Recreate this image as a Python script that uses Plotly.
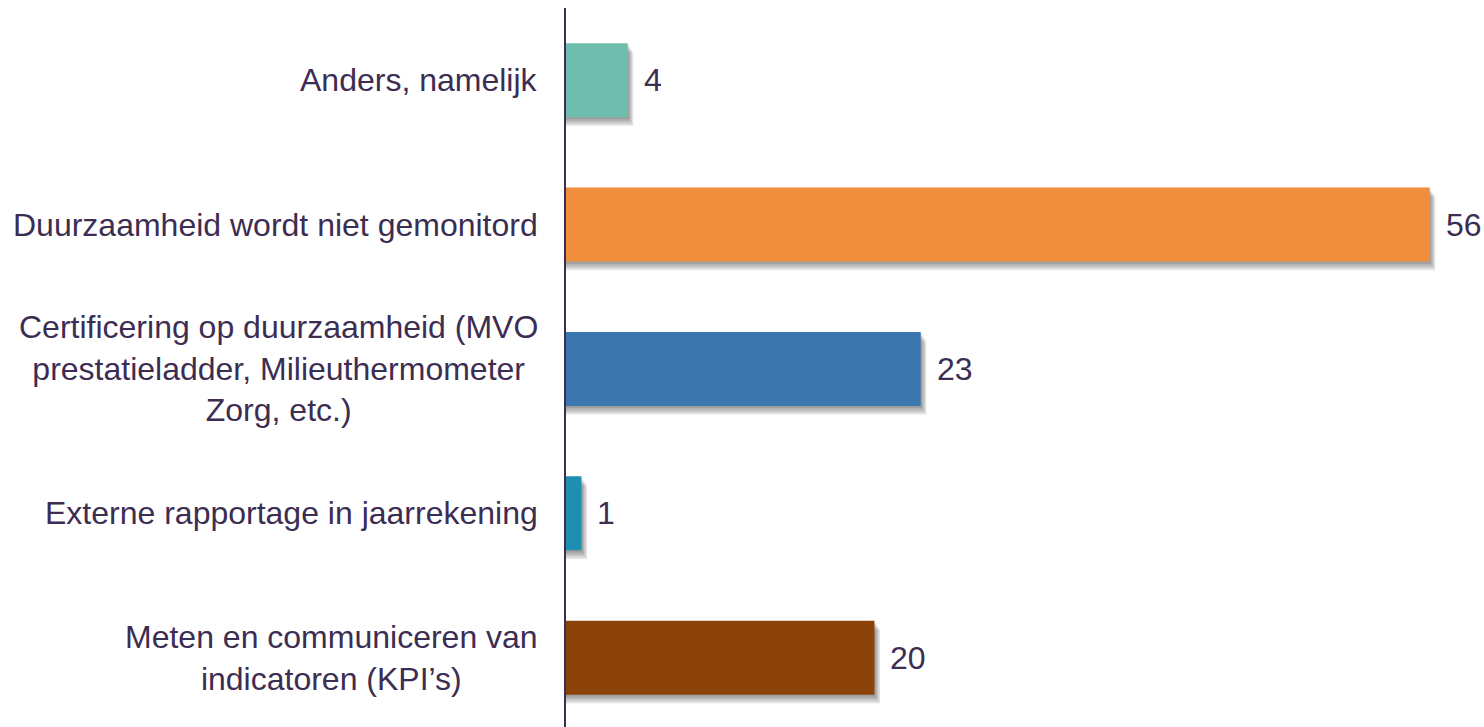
#!/usr/bin/env python3
"""
Monitoring duurzaamheid - horizontal bar chart
"""

import plotly.graph_objects as go

# Categories bottom -> top (plotly draws the first category at the bottom)
categories = [
    "Meten en communiceren van<br>indicatoren (KPI’s)",
    "Externe rapportage in jaarrekening",
    "Certificering op duurzaamheid (MVO<br>prestatieladder, Milieuthermometer<br>Zorg, etc.)",
    "Duurzaamheid wordt niet gemonitord",
    "Anders, namelijk",
]
values = [20, 1, 23, 56, 4]
bar_colors = ["#8B4309", "#1E8FAF", "#3C76AE", "#F08E3C", "#6FBEAD"]

TEXT_COLOR = "#3C2D52"
FONT = "Liberation Sans, Arial, sans-serif"
BAR_WIDTH = 0.512


def build_figure():
    """Build the bar chart with a soft drop shadow under each bar"""
    fig = go.Figure()

    # soft shadow: a few translucent layers, each pushed a bit lower/right
    for k in range(1, 5):
        fig.add_trace(go.Bar(
            y=categories,
            x=[v + 0.09 * k for v in values],
            orientation="h",
            width=BAR_WIDTH,
            offset=-BAR_WIDTH / 2 - 0.015 * k,
            marker=dict(color="rgba(0,0,0,0.11)", line=dict(width=0)),
            hoverinfo="skip",
            showlegend=False,
        ))

    fig.add_trace(go.Bar(
        y=categories,
        x=values,
        orientation="h",
        width=BAR_WIDTH,
        marker=dict(color=bar_colors, line=dict(width=0)),
        showlegend=False,
    ))

    # value labels right of the bars
    for cat, val in zip(categories, values):
        fig.add_annotation(
            x=val, y=cat, xref="x", yref="y",
            text=str(val), showarrow=False,
            xanchor="left", xshift=14,
            font=dict(size=32, color=TEXT_COLOR, family=FONT),
        )

    # category labels, centred per line like the original
    for cat in categories:
        fig.add_annotation(
            x=0, y=cat, xref="paper", yref="y",
            text=cat, showarrow=False, align="center",
            xanchor="right", xshift=-26,
            font=dict(size=32, color=TEXT_COLOR, family=FONT),
        )

    fig.update_layout(
        width=1484,
        height=727,
        margin=dict(l=566, r=8, t=8, b=0),
        barmode="overlay",
        plot_bgcolor="white",
        paper_bgcolor="white",
        font=dict(family=FONT, size=32, color=TEXT_COLOR),
    )
    fig.update_xaxes(
        range=[0, 59], visible=False, showgrid=False, zeroline=False,
    )
    fig.update_yaxes(
        type="category",
        categoryorder="array",
        categoryarray=categories,
        range=[-0.48, 4.5],
        showticklabels=False,
        ticks="",
        showgrid=False,
        zeroline=False,
        showline=True,
        linecolor=TEXT_COLOR,
        linewidth=2,
    )
    return fig


def main():
    fig = build_figure()
    # drop the default 8px body margin so the figure fills the window exactly
    fig.write_html(
        "out.html",
        config={"displayModeBar": False},
        post_script="document.body.style.margin = '0';",
    )
    print("Exported out.html")


if __name__ == "__main__":
    main()
